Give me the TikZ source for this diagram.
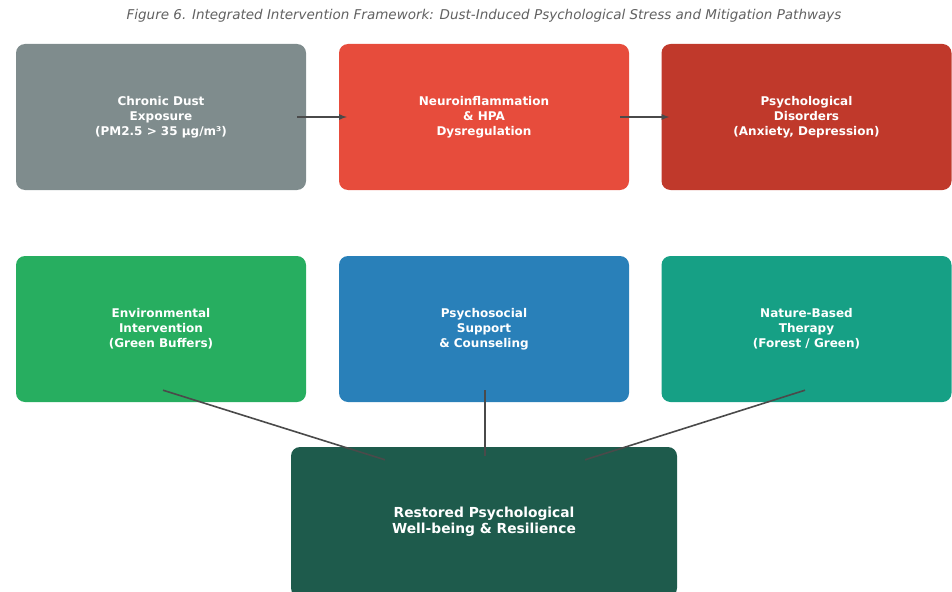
\documentclass[tikz,border=0pt]{standalone}
\usepackage{fontspec}
\setmainfont{DejaVu Sans}
\usetikzlibrary{calc}
\definecolor{dustgray}{HTML}{7F8C8D}
\definecolor{neured}{HTML}{E74C3C}
\definecolor{psyred}{HTML}{C0392B}
\definecolor{envgreen}{HTML}{27AE60}
\definecolor{supblue}{HTML}{2980B9}
\definecolor{natteal}{HTML}{16A085}
\definecolor{restgreen}{HTML}{1E5B4C}
\definecolor{linkgray}{HTML}{4A4A4A}
\tikzset{
  box/.style={rounded corners=9pt, minimum width=290pt, minimum height=146pt,
    text=white, align=center, inner sep=0pt,
    font=\fontsize{12pt}{15pt}\selectfont\bfseries},
  link/.style={draw=linkgray, line width=1.6pt},
  flow/.style={link, -latex}
}
\begin{document}
\begin{tikzpicture}[x=1pt, y=-1pt]
			%%%%% START %%%%%
			\useasboundingbox (0, 0) rectangle (952, 591);
			
			\node[text=black!62, font=\fontsize{13.5pt}{15pt}\selectfont\itshape] (title) at (484, 16)
				{Figure 6. Integrated Intervention Framework: Dust-Induced Psychological Stress and Mitigation Pathways};
			
			\node[box, fill=dustgray] (dust) at (161, 117) {Chronic Dust\\Exposure\\(PM2.5 > 35 μg/m³)};
			\node[box, fill=neured] (neuro) at (484, 117) {Neuroinflammation\\\& HPA\\Dysregulation};
			\node[box, fill=psyred] (disorder) at (806.5, 117) {Psychological\\Disorders\\(Anxiety, Depression)};
			
			\node[box, fill=envgreen] (envint) at (161, 329) {Environmental\\Intervention\\(Green Buffers)};
			\node[box, fill=supblue] (support) at (484, 329) {Psychosocial\\Support\\\& Counseling};
			\node[box, fill=natteal] (nature) at (806.5, 329) {Nature-Based\\Therapy\\(Forest / Green)};
			
			\node[box, fill=restgreen, minimum width=386pt, minimum height=150pt,
				font=\fontsize{13.8pt}{16pt}\selectfont\bfseries] (restored) at (484, 522)
				{Restored Psychological\\Well-being \& Resilience};
			
			\draw[flow] ($(dust.east)+(-9, 0)$) -- ($(neuro.west)+(8, 0)$);
			\draw[flow] ($(neuro.east)+(-9, 0)$) -- ($(disorder.west)+(8, 0)$);
			\draw[link] ($(envint.south)+(2, -12)$) -- ($(restored.north)+(-99, 13)$);
			\draw[link] ($(support.south)+(1, -12)$) -- ($(restored.north)+(1, 9)$);
			\draw[link] ($(nature.south)+(-1.5, -12)$) -- ($(restored.north)+(101, 13)$);
			%%%%% END %%%%%
\end{tikzpicture}
\end{document}
